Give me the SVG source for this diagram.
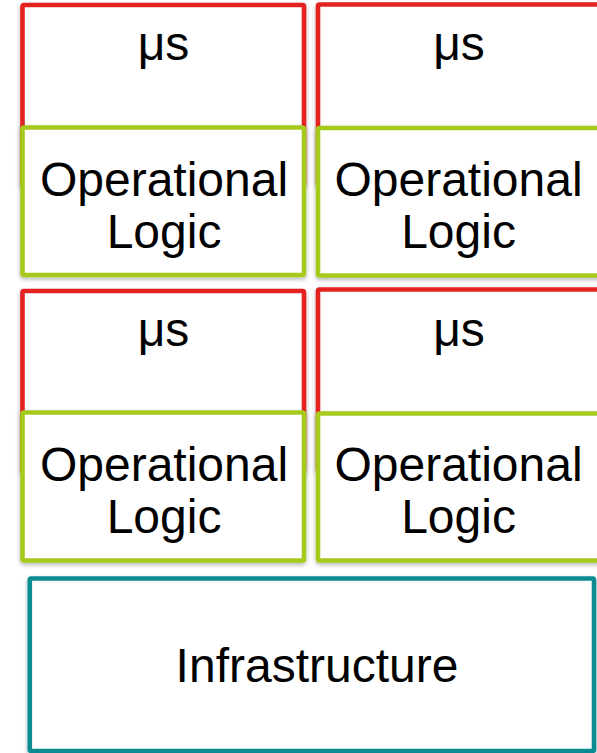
<svg xmlns="http://www.w3.org/2000/svg" width="597" height="753" viewBox="0 0 597 753">
  <defs>
    <filter id="shade" x="-10%" y="-10%" width="120%" height="130%">
      <feDropShadow dx="0" dy="2" stdDeviation="2" flood-color="#000" flood-opacity="0.3"/>
    </filter>
    <style>
      .box { fill: #ffffff; stroke-width: 4.6; filter: url(#shade); }
      .ms { stroke: #e42421; }
      .op { stroke: #a6ca1b; }
      .infra { stroke: #0a8b92; }
      .lbl { font-family: "Liberation Sans", Arial, sans-serif; font-size: 48px; fill: #000; text-anchor: middle; }
    </style>
  </defs>

  <!-- upper row: microservices with their operational logic -->
  <g id="ms-1-left">
    <rect class="box ms" x="22.5" y="5" width="281.5" height="180" rx="1.5"/>
    <text class="lbl" x="163.5" y="60">μs</text>
  </g>
  <g id="ms-1-right">
    <rect class="box ms" x="318" y="4.5" width="300" height="180" rx="1.5"/>
    <text class="lbl" x="459" y="60">μs</text>
  </g>
  <g id="op-1-left">
    <rect class="box op" x="22.5" y="127.5" width="281.5" height="147.5" rx="1.5"/>
    <text class="lbl" x="164" y="196">Operational</text>
    <text class="lbl" x="164" y="248">Logic</text>
  </g>
  <g id="op-1-right">
    <rect class="box op" x="318" y="128" width="300" height="147.5" rx="1.5"/>
    <text class="lbl" x="458.5" y="196">Operational</text>
    <text class="lbl" x="458.5" y="248">Logic</text>
  </g>

  <!-- lower row -->
  <g id="ms-2-left">
    <rect class="box ms" x="22.5" y="291" width="281.5" height="180" rx="1.5"/>
    <text class="lbl" x="163.5" y="346">μs</text>
  </g>
  <g id="ms-2-right">
    <rect class="box ms" x="318" y="289.5" width="300" height="180" rx="1.5"/>
    <text class="lbl" x="459" y="346">μs</text>
  </g>
  <g id="op-2-left">
    <rect class="box op" x="22.5" y="412.5" width="281.5" height="148" rx="1.5"/>
    <text class="lbl" x="164" y="481">Operational</text>
    <text class="lbl" x="164" y="533">Logic</text>
  </g>
  <g id="op-2-right">
    <rect class="box op" x="318" y="413.5" width="300" height="147" rx="1.5"/>
    <text class="lbl" x="458.5" y="481">Operational</text>
    <text class="lbl" x="458.5" y="533">Logic</text>
  </g>

  <!-- shared platform underneath -->
  <g id="infrastructure">
    <rect class="box infra" x="29.8" y="578.5" width="564.2" height="172.5" rx="1.5"/>
    <text class="lbl" x="317" y="682">Infrastructure</text>
  </g>
</svg>
